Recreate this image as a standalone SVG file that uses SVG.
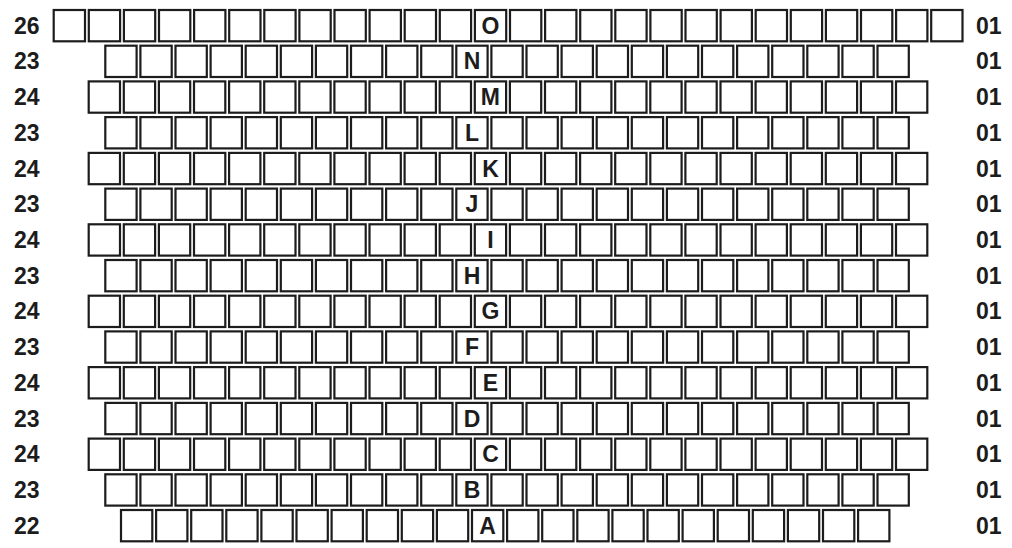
<svg xmlns="http://www.w3.org/2000/svg" xmlns:xlink="http://www.w3.org/1999/xlink" width="1012" height="548" viewBox="0 0 1012 548">
<style>
.c{fill:#fff;stroke:#1c1c1c;stroke-width:2.2}
.t{font-family:"Liberation Sans",Arial,Helvetica,sans-serif;font-weight:bold;font-size:23px;fill:#1c1c1c}
.m{text-anchor:middle}
</style>
<defs>
<g id="r26">
<rect class="c" x="53.7" y="0" width="31.3" height="31.3"/><rect class="c" x="88.8" y="0" width="31.3" height="31.3"/><rect class="c" x="123.9" y="0" width="31.3" height="31.3"/><rect class="c" x="159" y="0" width="31.3" height="31.3"/><rect class="c" x="194.1" y="0" width="31.3" height="31.3"/><rect class="c" x="229.2" y="0" width="31.3" height="31.3"/><rect class="c" x="264.3" y="0" width="31.3" height="31.3"/><rect class="c" x="299.4" y="0" width="31.3" height="31.3"/><rect class="c" x="334.5" y="0" width="31.3" height="31.3"/><rect class="c" x="369.6" y="0" width="31.3" height="31.3"/><rect class="c" x="404.7" y="0" width="31.3" height="31.3"/><rect class="c" x="439.8" y="0" width="31.3" height="31.3"/><rect class="c" x="474.9" y="0" width="31.3" height="31.3"/><rect class="c" x="510" y="0" width="31.3" height="31.3"/><rect class="c" x="545.1" y="0" width="31.3" height="31.3"/><rect class="c" x="580.2" y="0" width="31.3" height="31.3"/><rect class="c" x="615.3" y="0" width="31.3" height="31.3"/><rect class="c" x="650.4" y="0" width="31.3" height="31.3"/><rect class="c" x="685.5" y="0" width="31.3" height="31.3"/><rect class="c" x="720.6" y="0" width="31.3" height="31.3"/><rect class="c" x="755.7" y="0" width="31.3" height="31.3"/><rect class="c" x="790.8" y="0" width="31.3" height="31.3"/><rect class="c" x="825.9" y="0" width="31.3" height="31.3"/><rect class="c" x="861" y="0" width="31.3" height="31.3"/><rect class="c" x="896.1" y="0" width="31.3" height="31.3"/><rect class="c" x="931.2" y="0" width="31.3" height="31.3"/>
</g>
<g id="r24">
<rect class="c" x="88.7" y="0" width="31.3" height="31.3"/><rect class="c" x="123.8" y="0" width="31.3" height="31.3"/><rect class="c" x="158.9" y="0" width="31.3" height="31.3"/><rect class="c" x="194" y="0" width="31.3" height="31.3"/><rect class="c" x="229.1" y="0" width="31.3" height="31.3"/><rect class="c" x="264.2" y="0" width="31.3" height="31.3"/><rect class="c" x="299.3" y="0" width="31.3" height="31.3"/><rect class="c" x="334.4" y="0" width="31.3" height="31.3"/><rect class="c" x="369.5" y="0" width="31.3" height="31.3"/><rect class="c" x="404.6" y="0" width="31.3" height="31.3"/><rect class="c" x="439.7" y="0" width="31.3" height="31.3"/><rect class="c" x="474.8" y="0" width="31.3" height="31.3"/><rect class="c" x="509.9" y="0" width="31.3" height="31.3"/><rect class="c" x="545" y="0" width="31.3" height="31.3"/><rect class="c" x="580.1" y="0" width="31.3" height="31.3"/><rect class="c" x="615.2" y="0" width="31.3" height="31.3"/><rect class="c" x="650.3" y="0" width="31.3" height="31.3"/><rect class="c" x="685.4" y="0" width="31.3" height="31.3"/><rect class="c" x="720.5" y="0" width="31.3" height="31.3"/><rect class="c" x="755.6" y="0" width="31.3" height="31.3"/><rect class="c" x="790.7" y="0" width="31.3" height="31.3"/><rect class="c" x="825.8" y="0" width="31.3" height="31.3"/><rect class="c" x="860.9" y="0" width="31.3" height="31.3"/><rect class="c" x="896" y="0" width="31.3" height="31.3"/>
</g>
<g id="r23">
<rect class="c" x="105.3" y="0" width="31.3" height="31.3"/><rect class="c" x="140.4" y="0" width="31.3" height="31.3"/><rect class="c" x="175.5" y="0" width="31.3" height="31.3"/><rect class="c" x="210.6" y="0" width="31.3" height="31.3"/><rect class="c" x="245.7" y="0" width="31.3" height="31.3"/><rect class="c" x="280.8" y="0" width="31.3" height="31.3"/><rect class="c" x="315.9" y="0" width="31.3" height="31.3"/><rect class="c" x="351" y="0" width="31.3" height="31.3"/><rect class="c" x="386.1" y="0" width="31.3" height="31.3"/><rect class="c" x="421.2" y="0" width="31.3" height="31.3"/><rect class="c" x="456.3" y="0" width="31.3" height="31.3"/><rect class="c" x="491.4" y="0" width="31.3" height="31.3"/><rect class="c" x="526.5" y="0" width="31.3" height="31.3"/><rect class="c" x="561.6" y="0" width="31.3" height="31.3"/><rect class="c" x="596.7" y="0" width="31.3" height="31.3"/><rect class="c" x="631.8" y="0" width="31.3" height="31.3"/><rect class="c" x="666.9" y="0" width="31.3" height="31.3"/><rect class="c" x="702" y="0" width="31.3" height="31.3"/><rect class="c" x="737.1" y="0" width="31.3" height="31.3"/><rect class="c" x="772.2" y="0" width="31.3" height="31.3"/><rect class="c" x="807.3" y="0" width="31.3" height="31.3"/><rect class="c" x="842.4" y="0" width="31.3" height="31.3"/><rect class="c" x="877.5" y="0" width="31.3" height="31.3"/>
</g>
<g id="r22">
<rect class="c" x="121" y="0" width="31.3" height="31.3"/><rect class="c" x="156.1" y="0" width="31.3" height="31.3"/><rect class="c" x="191.2" y="0" width="31.3" height="31.3"/><rect class="c" x="226.3" y="0" width="31.3" height="31.3"/><rect class="c" x="261.4" y="0" width="31.3" height="31.3"/><rect class="c" x="296.5" y="0" width="31.3" height="31.3"/><rect class="c" x="331.6" y="0" width="31.3" height="31.3"/><rect class="c" x="366.7" y="0" width="31.3" height="31.3"/><rect class="c" x="401.8" y="0" width="31.3" height="31.3"/><rect class="c" x="436.9" y="0" width="31.3" height="31.3"/><rect class="c" x="472" y="0" width="31.3" height="31.3"/><rect class="c" x="507.1" y="0" width="31.3" height="31.3"/><rect class="c" x="542.2" y="0" width="31.3" height="31.3"/><rect class="c" x="577.3" y="0" width="31.3" height="31.3"/><rect class="c" x="612.4" y="0" width="31.3" height="31.3"/><rect class="c" x="647.5" y="0" width="31.3" height="31.3"/><rect class="c" x="682.6" y="0" width="31.3" height="31.3"/><rect class="c" x="717.7" y="0" width="31.3" height="31.3"/><rect class="c" x="752.8" y="0" width="31.3" height="31.3"/><rect class="c" x="787.9" y="0" width="31.3" height="31.3"/><rect class="c" x="823" y="0" width="31.3" height="31.3"/><rect class="c" x="858.1" y="0" width="31.3" height="31.3"/>
</g>
</defs>
<rect width="1012" height="548" fill="#fff"/>
<g id="row-O" transform="translate(0,10)"><use href="#r26"/><text class="t" x="14" y="23.8">26</text><text class="t m" x="490.55" y="23.8">O</text><text class="t" x="976" y="23.8">01</text></g>
<g id="row-N" transform="translate(0,45.7)"><use href="#r23"/><text class="t" x="14" y="23.8">23</text><text class="t m" x="471.95" y="23.8">N</text><text class="t" x="976" y="23.8">01</text></g>
<g id="row-M" transform="translate(0,81.4)"><use href="#r24"/><text class="t" x="14" y="23.8">24</text><text class="t m" x="490.45" y="23.8">M</text><text class="t" x="976" y="23.8">01</text></g>
<g id="row-L" transform="translate(0,117.1)"><use href="#r23"/><text class="t" x="14" y="23.8">23</text><text class="t m" x="471.95" y="23.8">L</text><text class="t" x="976" y="23.8">01</text></g>
<g id="row-K" transform="translate(0,152.9)"><use href="#r24"/><text class="t" x="14" y="23.8">24</text><text class="t m" x="490.45" y="23.8">K</text><text class="t" x="976" y="23.8">01</text></g>
<g id="row-J" transform="translate(0,188.6)"><use href="#r23"/><text class="t" x="14" y="23.8">23</text><text class="t m" x="471.95" y="23.8">J</text><text class="t" x="976" y="23.8">01</text></g>
<g id="row-I" transform="translate(0,224.3)"><use href="#r24"/><text class="t" x="14" y="23.8">24</text><text class="t m" x="490.45" y="23.8">I</text><text class="t" x="976" y="23.8">01</text></g>
<g id="row-H" transform="translate(0,260)"><use href="#r23"/><text class="t" x="14" y="23.8">23</text><text class="t m" x="471.95" y="23.8">H</text><text class="t" x="976" y="23.8">01</text></g>
<g id="row-G" transform="translate(0,295.7)"><use href="#r24"/><text class="t" x="14" y="23.8">24</text><text class="t m" x="490.45" y="23.8">G</text><text class="t" x="976" y="23.8">01</text></g>
<g id="row-F" transform="translate(0,331.4)"><use href="#r23"/><text class="t" x="14" y="23.8">23</text><text class="t m" x="471.95" y="23.8">F</text><text class="t" x="976" y="23.8">01</text></g>
<g id="row-E" transform="translate(0,367.1)"><use href="#r24"/><text class="t" x="14" y="23.8">24</text><text class="t m" x="490.45" y="23.8">E</text><text class="t" x="976" y="23.8">01</text></g>
<g id="row-D" transform="translate(0,402.9)"><use href="#r23"/><text class="t" x="14" y="23.8">23</text><text class="t m" x="471.95" y="23.8">D</text><text class="t" x="976" y="23.8">01</text></g>
<g id="row-C" transform="translate(0,438.6)"><use href="#r24"/><text class="t" x="14" y="23.8">24</text><text class="t m" x="490.45" y="23.8">C</text><text class="t" x="976" y="23.8">01</text></g>
<g id="row-B" transform="translate(0,474.3)"><use href="#r23"/><text class="t" x="14" y="23.8">23</text><text class="t m" x="471.95" y="23.8">B</text><text class="t" x="976" y="23.8">01</text></g>
<g id="row-A" transform="translate(0,510)"><use href="#r22"/><text class="t" x="14" y="23.8">22</text><text class="t m" x="487.65" y="23.8">A</text><text class="t" x="976" y="23.8">01</text></g>
</svg>
